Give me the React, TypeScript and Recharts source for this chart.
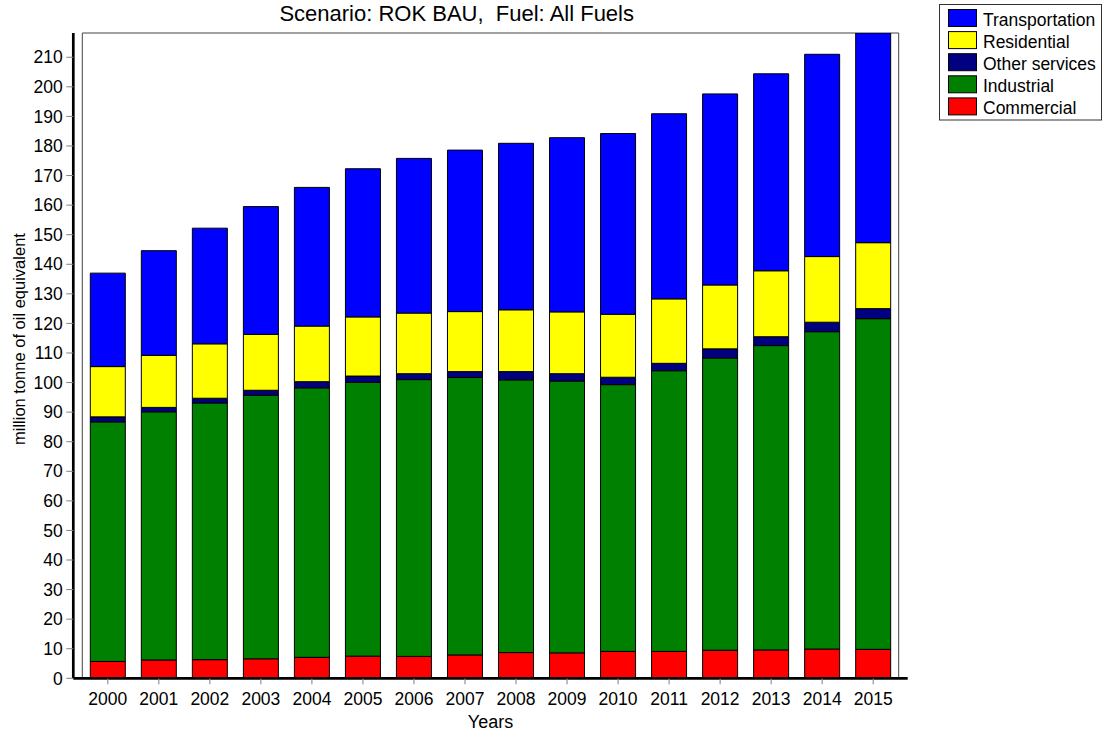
import React from 'react';
import { BarChart, Bar, XAxis, YAxis, ReferenceArea } from 'recharts';

// Final energy demand by sector, million tonne of oil equivalent
const years = ['2000', '2001', '2002', '2003', '2004', '2005', '2006', '2007', '2008', '2009', '2010', '2011', '2012', '2013', '2014', '2015'];
const commercial = [5.7, 6.2, 6.3, 6.6, 7.1, 7.5, 7.4, 7.9, 8.7, 8.6, 9.1, 9.1, 9.5, 9.6, 9.9, 9.8];
const industrial = [81.0, 83.9, 86.8, 89.1, 91.1, 92.6, 93.6, 93.8, 92.2, 91.9, 90.2, 94.9, 98.8, 102.9, 107.3, 111.8];
const otherServices = [1.7, 1.5, 1.6, 1.7, 2.1, 2.1, 2.0, 2.0, 2.8, 2.5, 2.5, 2.5, 3.1, 3.0, 3.2, 3.4];
const residential = [17.0, 17.6, 18.4, 18.9, 18.8, 20.0, 20.5, 20.3, 20.9, 20.9, 21.3, 21.8, 21.6, 22.3, 22.2, 22.3];
const transportation = [31.6, 35.4, 39.1, 43.2, 46.9, 50.1, 52.3, 54.6, 56.3, 58.9, 61.1, 62.6, 64.6, 66.6, 68.4, 70.9];
const yTicks = [0, 10, 20, 30, 40, 50, 60, 70, 80, 90, 100, 110, 120, 130, 140, 150, 160, 170, 180, 190, 200, 210];

// Stacking order, bottom to top
const series = [
  { key: 'Commercial', color: '#FF0000', values: commercial },
  { key: 'Industrial', color: '#008000', values: industrial },
  { key: 'Other services', color: '#000080', values: otherServices },
  { key: 'Residential', color: '#FFFF00', values: residential },
  { key: 'Transportation', color: '#0000FF', values: transportation },
];

const data = years.map((year, i) => {
  const row: Record<string, string | number> = { year };
  series.forEach((s) => {
    row[s.key] = s.values[i];
  });
  return row;
});

const totals = years.map((_, i) => series.reduce((sum, s) => sum + s.values[i], 0));
const yMax = Math.max(...totals);

const FONT = '"Liberation Sans", Arial, Helvetica, sans-serif';

export default function App() {
  const legendItems = [...series].reverse();
  return (
    <div style={{ position: 'absolute', left: 0, top: 0, width: 1108, height: 732, background: '#fff', fontFamily: FONT }}>
      <BarChart
        width={1108}
        height={732}
        data={data}
        margin={{ top: 33, right: 200.3, left: 13.3, bottom: 23.7 }}
        barSize={35}
      >
        <ReferenceArea y1={0} y2={yMax} fill="none" stroke="#444" strokeWidth={1} ifOverflow="visible" />
        {series.map((s) => (
          <Bar
            key={s.key}
            dataKey={s.key}
            stackId="total"
            fill={s.color}
            stroke="#000"
            strokeWidth={1}
            isAnimationActive={false}
          />
        ))}
        <XAxis
          dataKey="year"
          interval={0}
          padding={{ left: 9, right: 9 }}
          height={30}
          tickSize={6}
          tickMargin={8}
          tickLine={{ stroke: '#808080' }}
          axisLine={{ stroke: '#000', strokeWidth: 2.7 }}
          tick={{ fontSize: 17.5, fill: '#000', fontFamily: FONT }}
          label={{
            content: ({ viewBox }: any) => (
              <text
                x={viewBox.x + viewBox.width / 2}
                y={viewBox.y + 49.4}
                textAnchor="middle"
                fontSize={18}
                fontFamily={FONT}
                fill="#000"
              >
                Years
              </text>
            ),
          }}
        />
        <YAxis
          type="number"
          domain={[0, yMax]}
          allowDataOverflow
          ticks={yTicks}
          interval={0}
          width={60}
          tickSize={7}
          tickMargin={3.6}
          tickLine={{ stroke: '#808080' }}
          axisLine={{ stroke: '#000', strokeWidth: 2.7 }}
          tick={{ fontSize: 17.5, fill: '#000', fontFamily: FONT }}
          label={{
            content: ({ viewBox }: any) => {
              const x = viewBox.x + 11.7;
              const y = viewBox.y + viewBox.height / 2 - 16.6;
              return (
                <text
                  x={x}
                  y={y}
                  transform={`rotate(-90, ${x}, ${y})`}
                  textAnchor="middle"
                  fontSize={16.5}
                  fontFamily={FONT}
                  fill="#000"
                >
                  million tonne of oil equivalent
                </text>
              );
            },
          }}
        />
      </BarChart>
      <svg
        width={1108}
        height={732}
        style={{ position: 'absolute', left: 0, top: 0, pointerEvents: 'none' }}
      >
        <text
          x={456.7}
          y={20.5}
          textAnchor="middle"
          fontSize={22}
          fontFamily={FONT}
          fill="#000"
          style={{ whiteSpace: 'pre' }}
        >
          {'Scenario: ROK BAU,  Fuel: All Fuels'}
        </text>
        <g>
          <rect x={939.5} y={4.5} width={162} height={115.5} fill="#fff" stroke="#333" strokeWidth={1} />
          {legendItems.map((s, i) => (
            <g key={s.key}>
              <rect x={948.5} y={9.5 + i * 22.1} width={28} height={17} fill={s.color} stroke="#000" strokeWidth={1} />
              <text x={983} y={26 + i * 22.1} fontSize={17.5} fontFamily={FONT} fill="#000">
                {s.key}
              </text>
            </g>
          ))}
        </g>
      </svg>
    </div>
  );
}
